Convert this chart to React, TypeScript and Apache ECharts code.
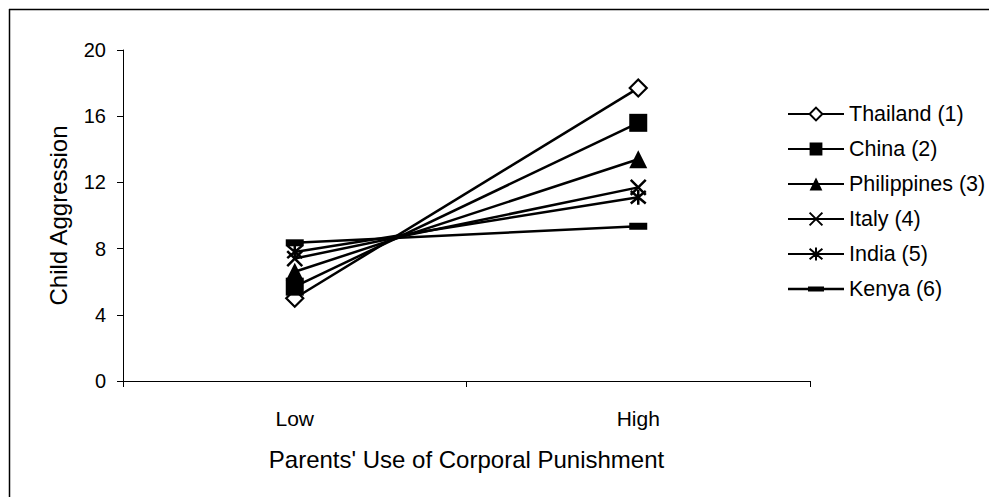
import React, { useEffect, useRef } from "react";
import * as echarts from "echarts";

const categories = ["Low", "High"];
const seriesNames = ["Thailand (1)", "China (2)", "Philippines (3)", "Italy (4)", "India (5)", "Kenya (6)"];
const thailand = [5.0, 17.7];
const china = [5.7, 15.6];
const philippines = [6.6, 13.4];
const italy = [7.4, 11.7];
const india = [7.8, 11.1];
const kenya = [8.35, 9.35];
const yTicks = [0, 4, 8, 12, 16, 20];

const FONT = "'Liberation Sans', Arial, sans-serif";

export default function App() {
  const ref = useRef<HTMLDivElement>(null);
  useEffect(() => {
    if (!ref.current) return;
    const chart = echarts.init(ref.current, null, { renderer: "svg" });
    const lineStyle = { color: "#000", width: 2.5 };
    const mk = (name: string, data: number[], symbol: string, size: any, itemStyle: any) => ({
      name,
      type: "line",
      data,
      symbol,
      symbolSize: size,
      showAllSymbol: true,
      lineStyle,
      itemStyle,
      z: 3,
    });
    const datasets = [thailand, china, philippines, italy, india, kenya];
    const kenyaIcon =
      "path://M0,0L0.01,0L0,0.01Z M56,16L55.99,16L56,15.99Z M0,6.8L56,6.8L56,9.2L0,9.2Z M20,5.5L36,5.5L36,10.5L20,10.5Z";
    chart.setOption({
      animation: false,
      backgroundColor: "#fff",
      textStyle: { fontFamily: FONT, color: "#000" },
      graphic: [
        { type: "line", shape: { x1: 1, y1: 1.5, x2: 1200, y2: 1.5 }, style: { stroke: "#000", lineWidth: 1.5 } },
        { type: "line", shape: { x1: 1.5, y1: 1, x2: 1.5, y2: 1200 }, style: { stroke: "#000", lineWidth: 1.5 } },
      ],
      grid: { left: 115, top: 42, right: 187, bottom: 116, containLabel: false },
      legend: {
        orient: "vertical",
        left: 779,
        top: 95,
        padding: 0,
        itemWidth: 56,
        itemHeight: 16,
        itemGap: 13,
        textStyle: { fontFamily: FONT, fontSize: 21.5, color: "#000" },
        data: [
          seriesNames[0],
          seriesNames[1],
          seriesNames[2],
          seriesNames[3],
          seriesNames[4],
          { name: seriesNames[5], icon: kenyaIcon },
        ],
      },
      xAxis: {
        type: "category",
        data: categories,
        boundaryGap: true,
        name: "Parents' Use of Corporal Punishment",
        nameLocation: "middle",
        nameGap: 66,
        nameMoveOverlap: false,
        nameTextStyle: { fontFamily: FONT, fontSize: 24, color: "#000" },
        axisLine: { lineStyle: { color: "#000", width: 1 } },
        axisTick: { show: true, length: 6, lineStyle: { color: "#000" } },
        axisLabel: { fontFamily: FONT, fontSize: 21, color: "#000", margin: 27 },
        splitLine: { show: false },
      },
      yAxis: {
        type: "value",
        min: yTicks[0],
        max: yTicks[yTicks.length - 1],
        interval: 4,
        name: "Child Aggression",
        nameLocation: "middle",
        nameGap: 53,
        nameMoveOverlap: false,
        nameRotate: 90,
        nameTextStyle: { fontFamily: FONT, fontSize: 24, color: "#000" },
        axisLine: { show: true, lineStyle: { color: "#000", width: 1 } },
        axisTick: { show: true, length: 6, lineStyle: { color: "#000" } },
        axisLabel: { fontFamily: FONT, fontSize: 20, color: "#000", margin: 17 },
        splitLine: { show: false },
      },
      series: [
        mk(seriesNames[0], datasets[0], "diamond", 17, { color: "#fff", borderColor: "#000", borderWidth: 2.2 }),
        mk(seriesNames[1], datasets[1], "rect", 18, { color: "#000", borderColor: "#000", borderWidth: 0 }),
        mk(seriesNames[2], datasets[2], "triangle", 18, { color: "#000", borderColor: "#000", borderWidth: 0 }),
        mk(seriesNames[3], datasets[3], "path://M0,0L10,10M10,0L0,10", 15, { color: "none", borderColor: "#000", borderWidth: 2.5 }),
        mk(seriesNames[4], datasets[4], "path://M0,0L10,10M10,0L0,10M5,-1L5,11", 15, { color: "none", borderColor: "#000", borderWidth: 2.5 }),
        mk(seriesNames[5], datasets[5], "rect", [18, 7], { color: "#000", borderColor: "#000", borderWidth: 0 }),
      ],
    });
    return () => chart.dispose();
  }, []);
  return <div ref={ref} style={{ width: 989, height: 489 }} />;
}
